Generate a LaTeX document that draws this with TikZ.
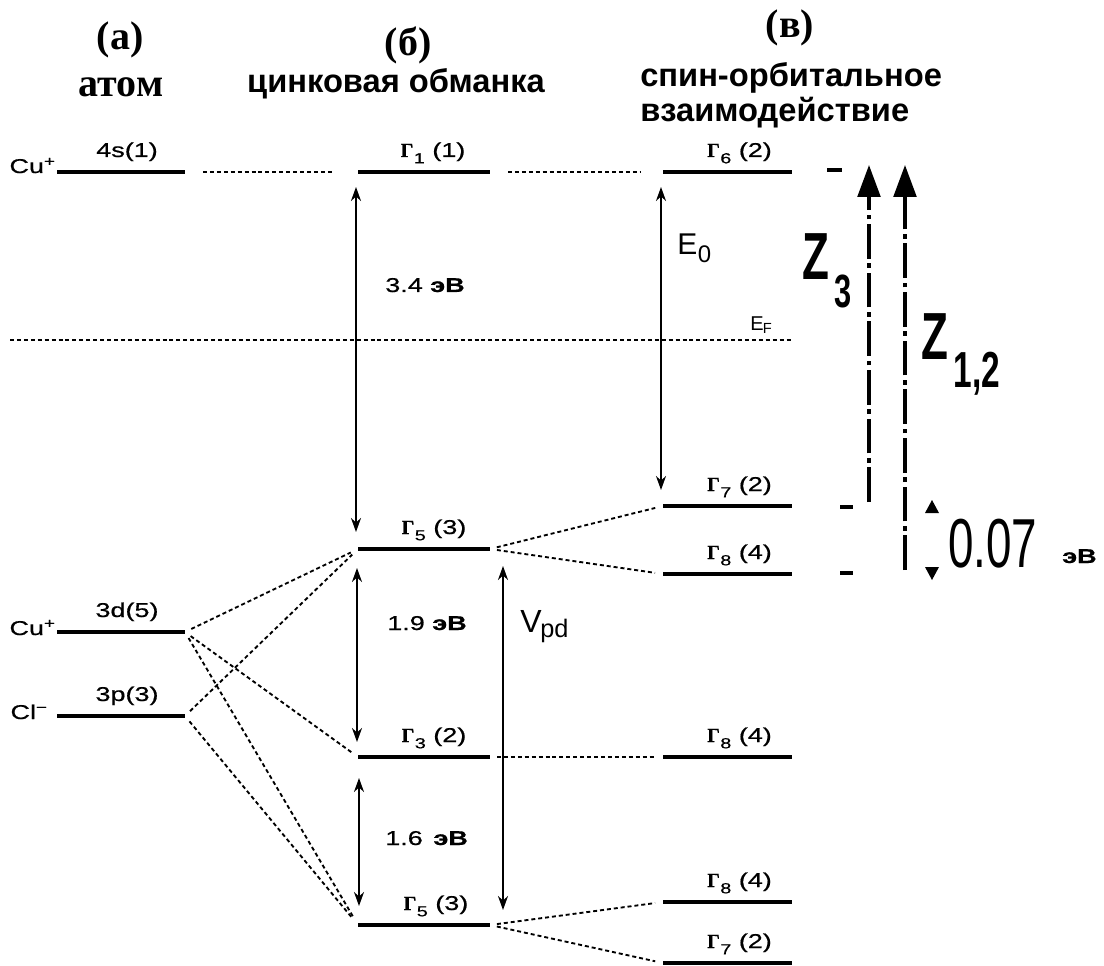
\documentclass[tikz,border=0pt]{standalone}
\usepackage{fontspec}
\setmainfont{Liberation Sans}
\newfontfamily\hdserif{Liberation Serif}
\newfontfamily\hdsans{Liberation Sans}
\newfontfamily\labsans{Liberation Sans}[FakeStretch=1.35,FakeBold=0.6]
\newfontfamily\labgreek{Liberation Serif}[FakeBold=0.4]
\newfontfamily\narrowsans{Liberation Sans}[FakeStretch=0.66]
\usetikzlibrary{arrows.meta,calc}

% level line: name, x left, x right, y
\newcommand\lvlline[4]{%
  \coordinate (#1-l) at (#2,#4);
  \coordinate (#1-r) at (#3,#4);
  \draw[lvl] (#1-l) -- (#1-r);}
% Gamma symbol with subscript and degeneracy
\newcommand\Gsub[2]{{\labgreek\bfseries Γ}\kern0.3pt\raisebox{-0.6ex}{\fontsize{11}{11}\selectfont #1}\ (#2)}

\tikzset{
  lvl/.style={line width=2.4pt},
  dotln/.style={line width=1.4pt, dash pattern=on 3pt off 2.2pt},
  tick/.style={line width=3.4pt},
  gaparrow/.style={line width=1.5pt,
    {Stealth[length=10.5pt,width=7.5pt]}-{Stealth[length=10.5pt,width=7.5pt]}},
  zarrow/.style={line width=2.6pt,
    dash pattern=on 26pt off 3.5pt on 3.5pt off 3.5pt,
    -{Triangle[length=24pt,width=17pt]}},
  lab/.style={font=\labsans\fontsize{15}{17}\selectfont, inner sep=0pt},
  heads/.style={font=\hdserif\bfseries\fontsize{30}{32}\selectfont, inner sep=0pt},
  headsans/.style={font=\hdsans\bfseries\fontsize{24.5}{26}\selectfont, inner sep=0pt},
  big/.style={font=\narrowsans\bfseries\fontsize{50}{50}\selectfont, inner sep=0pt},
}

\begin{document}
\begin{tikzpicture}[x=0.75pt,y=-0.75pt]
\useasboundingbox (0,0) rectangle (1104,966);

% column headings
\node[heads] (ha) at (120,40) {(а)};
\node[heads] (hat) at (121,87) {атом};
\node[heads] (hb) at (408,45) {(б)};
\node[headsans] (hbt) at (396,84) {цинковая обманка};
\node[heads] (hc) at (790,28) {(в)};
\node[headsans, anchor=base west] (hct1) at (640,87) {спин-орбитальное};
\node[headsans, anchor=base west] (hct2) at (640,122) {взаимодействие};

% atomic levels
\lvlline{a4s}{57}{185}{172}
\lvlline{a3d}{57}{185}{632}
\lvlline{a3p}{57}{185}{716}
\node[lab, anchor=base east] (cu1) at (56,173) {Cu\textsuperscript{+}};
\node[lab, anchor=base east] (cu2) at (56,635) {Cu\textsuperscript{+}};
\node[lab, anchor=base east] (cl) at (48,719) {Cl\textsuperscript{−}};
\node[lab, anchor=base] (a4s-t) at ($(a4s-l)!0.5!(a4s-r)+(6,-15)$) {4s(1)};
\node[lab, anchor=base] (a3d-t) at ($(a3d-l)!0.5!(a3d-r)+(6,-15)$) {3d(5)};
\node[lab, anchor=base] (a3p-t) at ($(a3p-l)!0.5!(a3p-r)+(6,-15)$) {3p(3)};

% zinc-blende levels
\lvlline{g1}{358}{490}{172}
\lvlline{g5a}{358}{490}{549}
\lvlline{g3}{358}{490}{757}
\lvlline{g5b}{358}{490}{925}
\node[lab, anchor=base] (g1-t) at ($(g1-l)!0.5!(g1-r)+(9,-15)$) {\Gsub{1}{1}};
\node[lab, anchor=base] (g5a-t) at ($(g5a-l)!0.5!(g5a-r)+(10,-15)$) {\Gsub{5}{3}};
\node[lab, anchor=base] (g3-t) at ($(g3-l)!0.5!(g3-r)+(10,-15)$) {\Gsub{3}{2}};
\node[lab, anchor=base] (g5b-t) at ($(g5b-l)!0.5!(g5b-r)+(12,-15)$) {\Gsub{5}{3}};

% spin-orbit split levels
\lvlline{g6}{663}{792}{172}
\lvlline{g7a}{663}{792}{506}
\lvlline{g8a}{663}{792}{574}
\lvlline{g8b}{663}{792}{757}
\lvlline{g8c}{663}{792}{902}
\lvlline{g7b}{663}{792}{963}
\node[lab, anchor=base] (g6-t) at ($(g6-l)!0.5!(g6-r)+(12,-15)$) {\Gsub{6}{2}};
\node[lab, anchor=base] (g7a-t) at ($(g7a-l)!0.5!(g7a-r)+(12,-15)$) {\Gsub{7}{2}};
\node[lab, anchor=base] (g8a-t) at ($(g8a-l)!0.5!(g8a-r)+(12,-15)$) {\Gsub{8}{4}};
\node[lab, anchor=base] (g8b-t) at ($(g8b-l)!0.5!(g8b-r)+(12,-15)$) {\Gsub{8}{4}};
\node[lab, anchor=base] (g8c-t) at ($(g8c-l)!0.5!(g8c-r)+(12,-15)$) {\Gsub{8}{4}};
\node[lab, anchor=base] (g7b-t) at ($(g7b-l)!0.5!(g7b-r)+(12,-15)$) {\Gsub{7}{2}};

% correlation lines
\draw[dotln, shorten <=13.5pt, shorten >=18.75pt] (a4s-r) -- (g1-l);
\draw[dotln, shorten <=13.5pt, shorten >=17pt] (g1-r) -- (g6-l);
\draw[dotln, shorten <=5.25pt, shorten >=6pt] (g3-r) -- (g8b-l);
\draw[dotln, shorten <=5.25pt, shorten >=6pt] (g5a-r) -- (g7a-l);
\draw[dotln, shorten <=5.25pt, shorten >=6pt] (g5a-r) -- (g8a-l);
\draw[dotln, shorten <=5.25pt, shorten >=6pt] (g5b-r) -- (g8c-l);
\draw[dotln, shorten <=5.25pt, shorten >=6pt] (g5b-r) -- (g7b-l);
\draw[dotln, shorten <=5.25pt, shorten >=6pt] (a3d-r) -- (g5a-l);
\draw[dotln, shorten <=5.25pt, shorten >=6pt] (a3d-r) -- (g3-l);
\draw[dotln, shorten <=5.25pt, shorten >=6pt] (a3d-r) -- (g5b-l);
\draw[dotln, shorten <=5.25pt, shorten >=6pt] (a3p-r) -- (g5a-l);
\draw[dotln, shorten <=5.25pt, shorten >=6pt] (a3p-r) -- (g5b-l);

% Fermi level
\coordinate (ef-l) at (10,340);
\coordinate (ef-r) at (792,340);
\draw[dotln] (ef-l) -- (ef-r);
\node[inner sep=0pt, anchor=base west, font=\fontsize{15}{15}\selectfont] (ef-t) at (750,331)
  {E\kern-0.5pt\raisebox{-0.25ex}{\fontsize{11}{11}\selectfont F}};

% energy gaps
\coordinate (d1t) at (356,187); \coordinate (d1b) at (356,532);
\coordinate (d2t) at (357,568); \coordinate (d2b) at (357,742);
\coordinate (d3t) at (359,778); \coordinate (d3b) at (359,906);
\coordinate (vt) at (503,566);  \coordinate (vb) at (503,910);
\coordinate (e0t) at (661,187); \coordinate (e0b) at (661,490);
\draw[gaparrow] (d1t) -- (d1b);
\draw[gaparrow] (d2t) -- (d2b);
\draw[gaparrow] (d3t) -- (d3b);
\draw[gaparrow] (vt) -- (vb);
\draw[gaparrow] (e0t) -- (e0b);
\node[lab, anchor=base west] (d1-t) at (385,292) {3.4 {\bfseries эВ}};
\node[lab, anchor=base west] (d2-t) at (387,630) {1.9 {\bfseries эВ}};
\node[lab, anchor=base west] (d3-t) at (385,845) {1.6\hspace{8pt}{\bfseries эВ}};
\node[inner sep=0pt, anchor=base west, font=\fontsize{24}{24}\selectfont] (v-t) at (520,632)
  {V\kern-1pt\raisebox{-0.3ex}{\fontsize{19}{19}\selectfont pd}};
\node[inner sep=0pt, anchor=base west, font=\fontsize{22.5}{22.5}\selectfont] (e0-t) at (677,255)
  {E\kern0.5pt\raisebox{-0.5ex}{\fontsize{18}{18}\selectfont 0}};

% level markers of the spin-orbit column
\coordinate (m1l) at (827,170); \coordinate (m1r) at (842,170);
\coordinate (m2l) at (840,507); \coordinate (m2r) at (853,507);
\coordinate (m3l) at (840,573); \coordinate (m3r) at (853,573);
\draw[tick] (m1l) -- (m1r);
\draw[tick] (m2l) -- (m2r);
\draw[tick] (m3l) -- (m3r);

% exciton transitions
\coordinate (z3s) at (869,502);  \coordinate (z3e) at (869,165);
\coordinate (z12s) at (905,570); \coordinate (z12e) at (905,165);
\draw[zarrow] (z3s) -- (z3e);
\draw[zarrow] (z12s) -- (z12e);
\node[big, anchor=base west] (z3-t) at (802,280)
  {Z\kern4pt\raisebox{-21pt}{\fontsize{35}{35}\selectfont 3}};
\node[big, anchor=base west] (z12-t) at (921,360)
  {Z\kern4pt\raisebox{-21pt}{\fontsize{38}{38}\selectfont 1,2}};

% spin-orbit splitting of the valence band top
\fill (925,513) -- (939,513) -- (932,500) -- cycle;
\fill (925,567) -- (939,567) -- (932,580) -- cycle;
\node[font=\narrowsans\fontsize{52}{52}\selectfont, inner sep=0pt, anchor=base west] (so-t) at (948,567) {0.07};
\node[lab, anchor=base west] (so-u) at (1062,563) {\bfseries эВ};
\end{tikzpicture}
\end{document}
